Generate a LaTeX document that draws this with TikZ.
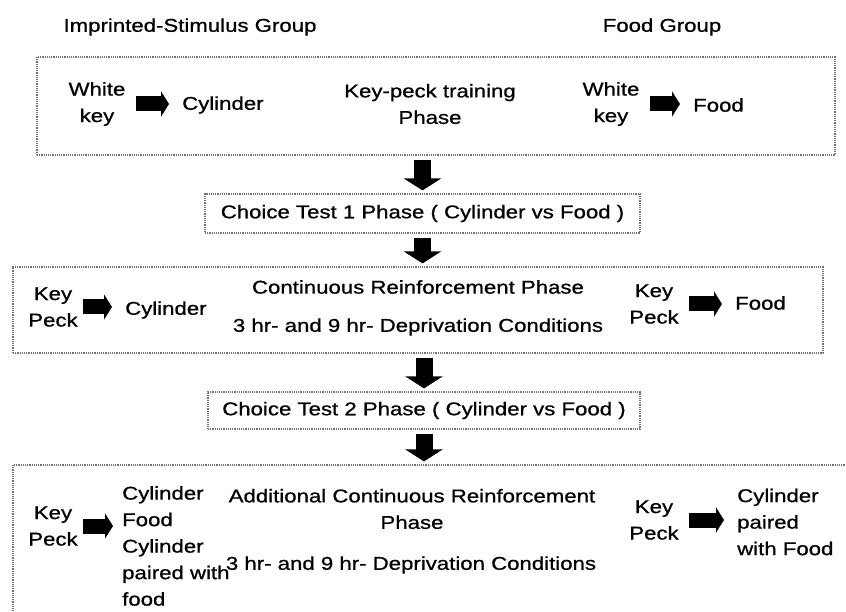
\documentclass[tikz,border=0pt]{standalone}
\usepackage{fontspec}
\setmainfont{Liberation Sans}[FakeStretch=1.2, FakeBold=0.8, BoldFont=*]
\usetikzlibrary{arrows.meta, positioning}

\tikzset{
  phasebox/.style={draw=black!55, densely dotted, line width=1.2pt, inner sep=0pt},
  txt/.style={inner sep=0pt, align=center, font=\fontsize{18.5}{26.5}\selectfont\bfseries},
  rarrow/.style={line width=15pt, -{Triangle[length=8pt,width=25pt]}, shorten <=10pt, shorten >=13pt},
  darrow/.style={line width=17pt, -{Triangle[length=12pt,width=37pt]}, shorten <=4pt, shorten >=3pt}
}

\begin{document}
\begin{tikzpicture}[x=1pt, y=-1pt]
  \useasboundingbox (0,0) rectangle (846,612);
  \fill[white] (0,0) rectangle (846,612);
  \clip (0,0) rectangle (846,612);

  % groups
  \node[txt] (gimp) at (190,27) {Imprinted-Stimulus Group};
  \node[txt] (gfood) at (662,27) {Food Group};

  % phase boxes
  \node[phasebox, minimum width=798pt, minimum height=98pt] (train) at (436,106) {};
  \node[phasebox, txt, minimum width=435pt, minimum height=39pt] (test1) at (422.5,213.5) {Choice Test 1 Phase ( Cylinder vs Food )};
  \node[phasebox, minimum width=810pt, minimum height=86pt] (crf) at (418,310) {};
  \node[phasebox, txt, minimum width=432pt, minimum height=37pt] (test2) at (424,410.5) {Choice Test 2 Phase ( Cylinder vs Food )};
  \node[phasebox, minimum width=850pt, minimum height=170pt] (acrf) at (438,550) {};

  % key-peck training
  \node[txt] (wk1) at (97,104) {White\\key};
  \node[txt, anchor=west] (cyl1) at (182,105) {Cylinder};
  \node[txt] (ktp) at (430,104) {Key-peck training\\Phase};
  \node[txt] (wk2) at (611,104) {White\\key};
  \node[txt, anchor=west] (food1) at (693,105) {Food};

  % continuous reinforcement
  \node[txt] (kp3) at (53,307) {Key\\Peck};
  \node[txt, anchor=west] (cyl3) at (125,310) {Cylinder};
  \node[txt] (crfname) at (418,287) {Continuous Reinforcement Phase};
  \node[txt] (dep3) at (418,327) {3 hr- and 9 hr- Deprivation Conditions};
  \node[txt] (kp3b) at (654,304) {Key\\Peck};
  \node[txt, anchor=west] (food3) at (735,303) {Food};

  % additional continuous reinforcement
  \node[txt] (kp5) at (53,526) {Key\\Peck};
  \node[txt, anchor=west, align=left] (stim5) at (122,546) {Cylinder\\Food\\Cylinder\\paired with\\food};
  \node[txt] (acrfname) at (412,509) {Additional Continuous Reinforcement\\Phase};
  \node[txt] (dep5) at (411,565) {3 hr- and 9 hr- Deprivation Conditions};
  \node[txt] (kp5b) at (654,520) {Key\\Peck};
  \node[txt, anchor=west, align=left] (stim5b) at (737,522) {Cylinder\\paired\\with Food};

  % block arrows
  \draw[rarrow] (wk1.east) -- (wk1.east -| cyl1.west);
  \draw[rarrow] (wk2.east) -- (wk2.east -| food1.west);
  \draw[rarrow, shorten <=5pt] (kp3.east) -- (kp3.east -| cyl3.west);
  \draw[rarrow] (kp3b.east) -- (kp3b.east -| food3.west);
  \draw[rarrow, shorten <=5pt, shorten >=9pt] (kp5.east) -- (kp5.east -| stim5.west);
  \draw[rarrow] (kp5b.east) -- (kp5b.east -| stim5b.west);

  \draw[darrow] (train.south -| test1.north) -- (test1.north);
  \draw[darrow] (test1.south) -- (test1.south |- crf.north);
  \draw[darrow] (crf.south -| test2.north) -- (test2.north);
  \draw[darrow] (test2.south) -- (test2.south |- acrf.north);
\end{tikzpicture}
\end{document}
